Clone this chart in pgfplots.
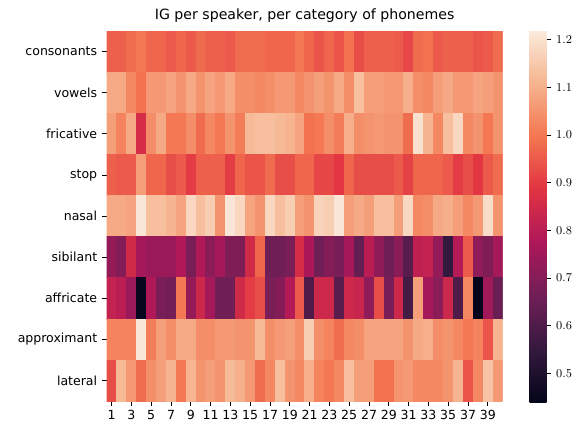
\documentclass[border=0pt]{standalone}
\usepackage{fontspec}
\setmainfont{DejaVu Sans}
\usepackage{pgfplots}
\pgfplotsset{compat=1.18}

% rocket colormap (seaborn), anchors at 0, 1/7, ..., 1
\pgfplotsset{
  colormap={rocket}{
    rgb255(0)=(3,5,26)
    rgb255(1)=(53,25,62)
    rgb255(2)=(112,31,87)
    rgb255(3)=(173,23,89)
    rgb255(4)=(225,51,66)
    rgb255(5)=(243,118,81)
    rgb255(6)=(246,180,143)
    rgb255(7)=(250,235,221)
  }
}

\begin{document}
\begin{tikzpicture}
\useasboundingbox (0,0) rectangle (438pt,318.75pt);
\begin{axis}[
  at={(80pt,18pt)}, anchor=south west,
  scale only axis,
  width=297pt, height=277.5pt,
  colormap name=rocket,
  point meta min=0.44, point meta max=1.22,
  xmin=0.5, xmax=40.5,
  ymin=-0.5, ymax=8.5,
  y dir=reverse,
  axis line style={draw=none},
  tick align=outside,
  major tick length=3.6pt,
  tick style={black, line width=0.6pt},
  xtick={1,3,...,39},
  xtick pos=bottom,
  ytick={0,...,8},
  yticklabels={consonants,vowels,fricative,stop,nasal,sibilant,affricate,approximant,lateral},
  ytick pos=left,
  ticklabel style={font=\fontsize{9.4}{11}\selectfont},
  /pgf/number format/assume math mode=true,
  title={IG per speaker, per category of phonemes},
  title style={at={(0.5,1)}, anchor=base, yshift=2.5pt, font=\fontsize{10.6}{12}\selectfont},
  colorbar,
  colorbar style={
    at={(1.0682,1.0027)}, anchor=north west,
    scale only axis,
    width=12.75pt, height=279pt,
    axis line style={draw=none},
    ytick={0.5,0.6,...,1.2},
    yticklabel style={/pgf/number format/.cd, fixed, fixed zerofill, precision=1},
    major tick length=3.6pt,
    tick align=outside,
    ytick pos=right,
  },
]
\addplot[matrix plot*, mesh/cols=40, point meta=explicit] coordinates {
(1,0)[0.96] (2,0)[0.96] (3,0)[0.98] (4,0)[1.00] (5,0)[0.97] (6,0)[0.97] (7,0)[0.95] (8,0)[0.97] (9,0)[0.95] (10,0)[0.98] (11,0)[0.96] (12,0)[0.96] (13,0)[0.95] (14,0)[0.98] (15,0)[0.98] (16,0)[0.98] (17,0)[0.97] (18,0)[0.97] (19,0)[0.97] (20,0)[1.00] (21,0)[0.97] (22,0)[0.94] (23,0)[0.97] (24,0)[0.94] (25,0)[0.99] (26,0)[0.93] (27,0)[0.96] (28,0)[0.96] (29,0)[0.96] (30,0)[0.95] (31,0)[0.92] (32,0)[0.98] (33,0)[0.99] (34,0)[0.95] (35,0)[0.96] (36,0)[0.96] (37,0)[0.96] (38,0)[0.94] (39,0)[0.95] (40,0)[0.98]

(1,1)[1.09] (2,1)[1.09] (3,1)[1.03] (4,1)[0.99] (5,1)[1.06] (6,1)[1.06] (7,1)[1.08] (8,1)[1.05] (9,1)[1.09] (10,1)[1.05] (11,1)[1.08] (12,1)[1.06] (13,1)[1.09] (14,1)[1.04] (15,1)[1.04] (16,1)[1.03] (17,1)[1.04] (18,1)[1.06] (19,1)[1.06] (20,1)[1.03] (21,1)[1.05] (22,1)[1.07] (23,1)[1.05] (24,1)[1.09] (25,1)[1.04] (26,1)[1.13] (27,1)[1.07] (28,1)[1.07] (29,1)[1.06] (30,1)[1.06] (31,1)[1.10] (32,1)[1.04] (33,1)[1.03] (34,1)[1.07] (35,1)[1.09] (36,1)[1.06] (37,1)[1.06] (38,1)[1.08] (39,1)[1.07] (40,1)[1.05]

(1,2)[1.07] (2,2)[1.02] (3,2)[1.09] (4,2)[0.86] (5,2)[1.04] (6,2)[1.09] (7,2)[1.00] (8,2)[1.00] (9,2)[1.04] (10,2)[0.98] (11,2)[1.03] (12,2)[1.00] (13,2)[1.05] (14,2)[1.01] (15,2)[1.12] (16,2)[1.13] (17,2)[1.13] (18,2)[1.12] (19,2)[1.11] (20,2)[1.08] (21,2)[0.99] (22,2)[1.00] (23,2)[1.04] (24,2)[1.01] (25,2)[1.10] (26,2)[1.04] (27,2)[1.05] (28,2)[1.06] (29,2)[1.05] (30,2)[1.05] (31,2)[0.98] (32,2)[1.20] (33,2)[1.11] (34,2)[1.03] (35,2)[1.13] (36,2)[1.18] (37,2)[1.03] (38,2)[1.05] (39,2)[1.00] (40,2)[1.05]

(1,3)[0.96] (2,3)[0.95] (3,3)[0.95] (4,3)[1.07] (5,3)[0.97] (6,3)[0.97] (7,3)[0.93] (8,3)[0.95] (9,3)[0.90] (10,3)[0.96] (11,3)[0.96] (12,3)[0.96] (13,3)[0.90] (14,3)[0.97] (15,3)[0.94] (16,3)[0.94] (17,3)[0.98] (18,3)[0.93] (19,3)[0.93] (20,3)[0.97] (21,3)[0.97] (22,3)[0.92] (23,3)[0.92] (24,3)[0.89] (25,3)[0.97] (26,3)[0.93] (27,3)[0.93] (28,3)[0.93] (29,3)[0.93] (30,3)[0.95] (31,3)[0.91] (32,3)[0.97] (33,3)[0.97] (34,3)[0.97] (35,3)[0.95] (36,3)[0.90] (37,3)[0.93] (38,3)[0.89] (39,3)[0.95] (40,3)[0.98]

(1,4)[1.09] (2,4)[1.09] (3,4)[1.08] (4,4)[1.21] (5,4)[1.13] (6,4)[1.13] (7,4)[1.11] (8,4)[1.08] (9,4)[1.18] (10,4)[1.13] (11,4)[1.16] (12,4)[1.05] (13,4)[1.21] (14,4)[1.18] (15,4)[1.08] (16,4)[1.05] (17,4)[1.18] (18,4)[1.13] (19,4)[1.16] (20,4)[1.07] (21,4)[1.05] (22,4)[1.17] (23,4)[1.16] (24,4)[1.21] (25,4)[1.07] (26,4)[1.09] (27,4)[1.07] (28,4)[1.13] (29,4)[1.13] (30,4)[1.07] (31,4)[1.18] (32,4)[1.03] (33,4)[1.04] (34,4)[1.09] (35,4)[1.10] (36,4)[1.07] (37,4)[1.03] (38,4)[1.06] (39,4)[1.19] (40,4)[1.05]

(1,5)[0.73] (2,5)[0.70] (3,5)[0.85] (4,5)[0.76] (5,5)[0.74] (6,5)[0.74] (7,5)[0.74] (8,5)[0.78] (9,5)[0.68] (10,5)[0.78] (11,5)[0.71] (12,5)[0.76] (13,5)[0.69] (14,5)[0.69] (15,5)[0.85] (16,5)[0.97] (17,5)[0.66] (18,5)[0.66] (19,5)[0.68] (20,5)[0.86] (21,5)[0.77] (22,5)[0.66] (23,5)[0.70] (24,5)[0.68] (25,5)[0.76] (26,5)[0.64] (27,5)[0.80] (28,5)[0.72] (29,5)[0.66] (30,5)[0.71] (31,5)[0.62] (32,5)[0.81] (33,5)[0.82] (34,5)[0.73] (35,5)[0.55] (36,5)[0.79] (37,5)[0.95] (38,5)[0.72] (39,5)[0.69] (40,5)[0.76]

(1,6)[0.82] (2,6)[0.80] (3,6)[0.74] (4,6)[0.45] (5,6)[0.78] (6,6)[0.68] (7,6)[0.67] (8,6)[1.00] (9,6)[0.73] (10,6)[0.84] (11,6)[0.76] (12,6)[0.66] (13,6)[0.66] (14,6)[0.85] (15,6)[0.90] (16,6)[0.93] (17,6)[0.68] (18,6)[0.70] (19,6)[0.79] (20,6)[0.95] (21,6)[0.60] (22,6)[0.84] (23,6)[0.84] (24,6)[0.62] (25,6)[0.84] (26,6)[0.83] (27,6)[0.72] (28,6)[0.93] (29,6)[0.68] (30,6)[0.84] (31,6)[0.58] (32,6)[1.07] (33,6)[0.76] (34,6)[0.71] (35,6)[0.84] (36,6)[0.60] (37,6)[1.03] (38,6)[0.44] (39,6)[0.75] (40,6)[0.65]

(1,7)[1.02] (2,7)[1.02] (3,7)[1.02] (4,7)[1.21] (5,7)[1.01] (6,7)[1.07] (7,7)[1.04] (8,7)[1.09] (9,7)[1.09] (10,7)[1.04] (11,7)[1.04] (12,7)[1.06] (13,7)[1.06] (14,7)[1.05] (15,7)[1.05] (16,7)[1.12] (17,7)[1.04] (18,7)[1.06] (19,7)[1.07] (20,7)[1.04] (21,7)[1.16] (22,7)[1.04] (23,7)[1.02] (24,7)[0.98] (25,7)[1.03] (26,7)[1.04] (27,7)[1.08] (28,7)[1.08] (29,7)[1.08] (30,7)[1.08] (31,7)[1.05] (32,7)[1.09] (33,7)[1.10] (34,7)[1.04] (35,7)[1.05] (36,7)[1.03] (37,7)[1.00] (38,7)[1.02] (39,7)[0.94] (40,7)[1.11]

(1,8)[0.93] (2,8)[1.12] (3,8)[1.06] (4,8)[0.98] (5,8)[1.04] (6,8)[1.07] (7,8)[1.11] (8,8)[1.00] (9,8)[1.11] (10,8)[1.05] (11,8)[1.07] (12,8)[1.05] (13,8)[1.12] (14,8)[1.10] (15,8)[1.06] (16,8)[0.98] (17,8)[1.03] (18,8)[1.13] (19,8)[1.05] (20,8)[1.03] (21,8)[1.10] (22,8)[1.02] (23,8)[1.00] (24,8)[1.03] (25,8)[1.13] (26,8)[1.07] (27,8)[1.07] (28,8)[0.99] (29,8)[0.99] (30,8)[1.05] (31,8)[1.06] (32,8)[1.03] (33,8)[1.03] (34,8)[1.03] (35,8)[1.05] (36,8)[1.11] (37,8)[0.94] (38,8)[1.03] (39,8)[1.14] (40,8)[1.06]
};
\end{axis}
\end{tikzpicture}
\end{document}
